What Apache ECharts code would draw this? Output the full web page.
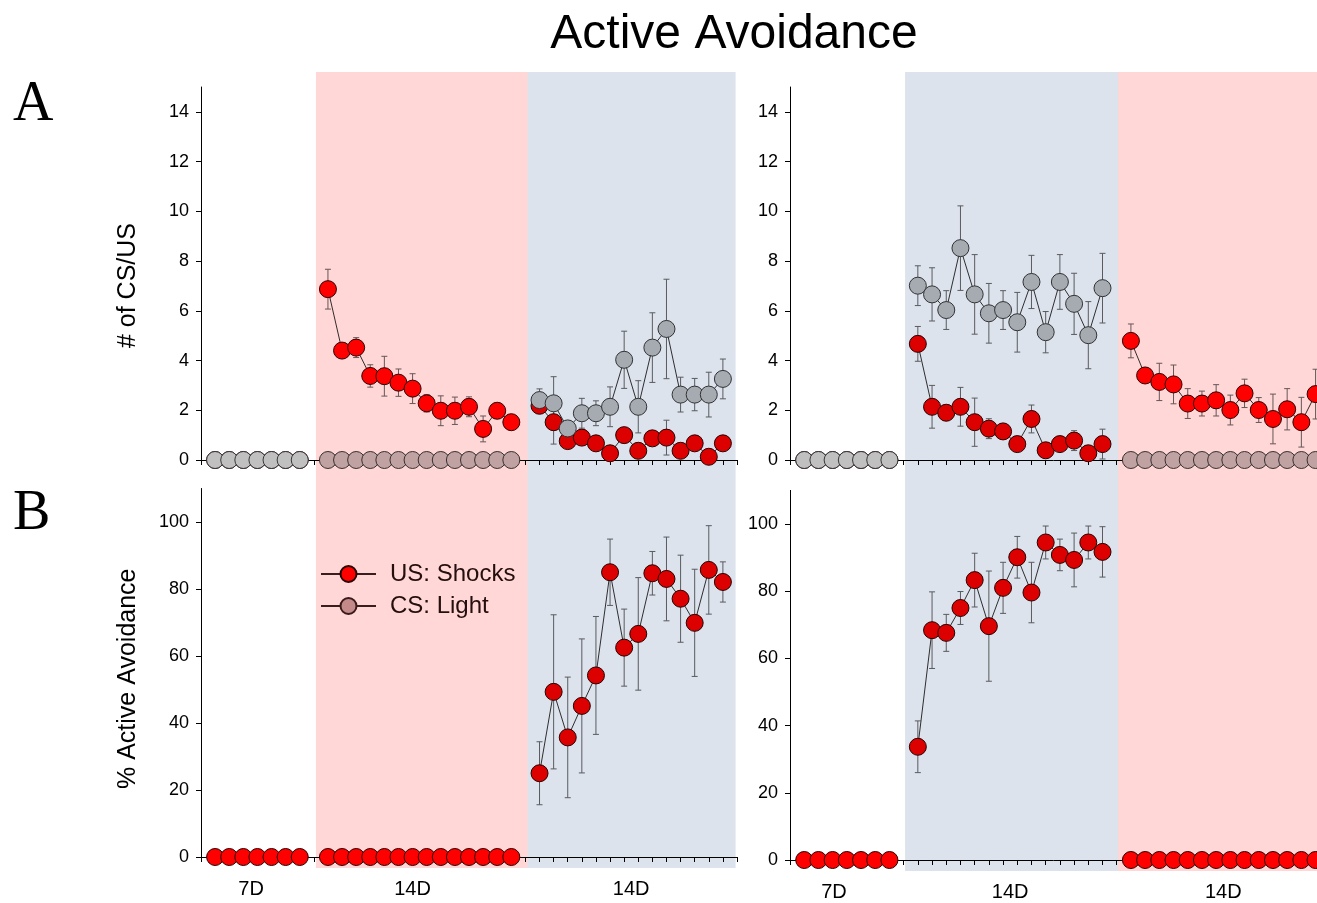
<!DOCTYPE html>
<html>
<head>
<meta charset="utf-8">
<title>Active Avoidance</title>
<script src="https://cdn.jsdelivr.net/npm/echarts@6/dist/echarts.min.js"></script>
<style>
  html, body { margin: 0; padding: 0; background: #fff; }
  #chart { width: 1317px; height: 903px; }
</style>
</head>
<body>
<div id="chart"></div>
<script>
// ---- Session layout: 7-day block, then two 14-day blocks, one empty slot between blocks
const blockStart = [0, 8, 23];
const blockLabels = ['7D', '14D', '14D'];
const blockLabelPosLeft = [2.55, 14, 29.5];
const blockLabelPosRight = [2.1, 14.5, 29.5];
const countTicks = [0, 2, 4, 6, 8, 10, 12, 14];
const pctTicks = [0, 20, 40, 60, 80, 100];

// ---- Left column: 7D, then 14D (pink), then 14D (blue)
// A: number of US (shocks) and CS (light) per session, mean and SEM
const leftShock7 = [0, 0, 0, 0, 0, 0, 0];
const leftShockPink = [6.87, 4.40, 4.52, 3.38, 3.37, 3.11, 2.87, 2.28, 1.98, 1.98, 2.14, 1.25, 1.98, 1.52];
const leftShockPinkErr = [0.8, 0.3, 0.4, 0.45, 0.8, 0.55, 0.6, 0.35, 0.6, 0.55, 0.4, 0.52, 0.3, 0.2];
const leftShockBlue = [2.18, 1.52, 0.76, 0.90, 0.67, 0.27, 1.00, 0.37, 0.87, 0.90, 0.37, 0.67, 0.13, 0.67];
const leftShockBlueErr = [0.3, 0.88, 0.2, 0.2, 0.2, 0.15, 0.2, 0.15, 0.2, 0.7, 0.15, 0.2, 0.15, 0.2];
const leftLight7 = [0, 0, 0, 0, 0, 0, 0];
const leftLightPink = [0, 0, 0, 0, 0, 0, 0, 0, 0, 0, 0, 0, 0, 0];
const leftLightBlue = [2.41, 2.28, 1.27, 1.88, 1.88, 2.14, 4.03, 2.14, 4.52, 5.27, 2.63, 2.63, 2.63, 3.26];
const leftLightBlueErr = [0.45, 1.07, 0.3, 0.6, 0.5, 0.8, 1.15, 1.05, 1.4, 2.0, 0.7, 0.65, 0.9, 0.8];
// B: % active avoidance
const leftAvoid7 = [0, 0, 0, 0, 0, 0, 0];
const leftAvoidPink = [0, 0, 0, 0, 0, 0, 0, 0, 0, 0, 0, 0, 0, 0];
const leftAvoidBlue = [25.0, 49.3, 35.7, 45.1, 54.2, 85.0, 62.5, 66.6, 84.7, 83.0, 77.1, 69.9, 85.7, 82.1];
const leftAvoidBlueErr = [9.4, 23, 18, 20, 17.6, 9.9, 11.5, 16.8, 6.5, 12.5, 13, 16, 13.2, 6];

// ---- Right column: 7D, then 14D (blue), then 14D (pink)
const rightShock7 = [0, 0, 0, 0, 0, 0, 0];
const rightShockBlue = [4.67, 2.14, 1.90, 2.14, 1.52, 1.26, 1.15, 0.64, 1.65, 0.39, 0.64, 0.78, 0.27, 0.64];
const rightShockBlueErr = [0.7, 0.86, 0.3, 0.78, 0.97, 0.4, 0.3, 0.2, 0.56, 0.2, 0.2, 0.4, 0.2, 0.6];
const rightShockPink = [4.79, 3.40, 3.14, 3.04, 2.27, 2.27, 2.40, 2.01, 2.68, 2.01, 1.65, 2.04, 1.52, 2.65];
const rightShockPinkErr = [0.68, 0.3, 0.75, 0.78, 0.6, 0.5, 0.63, 0.6, 0.57, 0.5, 1.0, 0.83, 1.0, 1.0];
const rightLight7 = [0, 0, 0, 0, 0, 0, 0];
const rightLightBlue = [7.01, 6.66, 6.03, 8.52, 6.66, 5.90, 6.03, 5.54, 7.16, 5.14, 7.16, 6.28, 5.02, 6.91];
const rightLightBlueErr = [0.8, 1.07, 0.78, 1.7, 1.6, 1.2, 0.78, 1.2, 1.07, 0.83, 1.1, 1.23, 1.35, 1.4];
const rightLightPink = [0, 0, 0, 0, 0, 0, 0, 0, 0, 0, 0, 0, 0, 0];
const rightAvoid7 = [0, 0, 0, 0, 0, 0, 0];
const rightAvoidBlue = [33.7, 68.4, 67.6, 75.0, 83.3, 69.6, 81.0, 90.1, 79.6, 94.5, 90.8, 89.3, 94.5, 91.7];
const rightAvoidBlueErr = [7.7, 11.4, 5.5, 4.9, 8, 16.4, 7.6, 6.2, 9.0, 4.9, 4.7, 8, 4.9, 7.5];
const rightAvoidPink = [0, 0, 0, 0, 0, 0, 0, 0, 0, 0, 0, 0, 0, 0];

const SANS = '"Liberation Sans", Arial, sans-serif';
const SERIF = '"Liberation Serif", "Times New Roman", serif';
const PINK = '#ffd7d7';
const BLUE = '#dde3ec';
const SHOCK = '#ff0000';
const LIGHT = '#c0c0c0';

// session index -> [x, value]; a '-' point breaks the line between blocks
function toPoints(blocks) {
  const pts = [];
  blocks.forEach((vals, b) => {
    if (b > 0) pts.push([blockStart[b] - 1, '-']);
    vals.forEach((v, i) => pts.push([blockStart[b] + i, v]));
  });
  return pts;
}
function toErrPoints(blocks, errs) {
  const pts = [];
  blocks.forEach((vals, b) => {
    if (!errs[b]) return;
    vals.forEach((v, i) => pts.push([blockStart[b] + i, v, errs[b][i]]));
  });
  return pts;
}

function renderErr(params, api) {
  const x = api.value(0), y = api.value(1), e = api.value(2);
  if (!(e > 0)) return null;
  const hi = api.coord([x, y + e]);
  const lo = api.coord([x, y - e]);
  const w = 3;
  const st = { stroke: '#666', lineWidth: 1 };
  return {
    type: 'group',
    children: [
      { type: 'line', shape: { x1: hi[0], y1: hi[1], x2: lo[0], y2: lo[1] }, style: st },
      { type: 'line', shape: { x1: hi[0] - w, y1: hi[1], x2: hi[0] + w, y2: hi[1] }, style: st },
      { type: 'line', shape: { x1: lo[0] - w, y1: lo[1], x2: lo[0] + w, y2: lo[1] }, style: st }
    ]
  };
}

function errSeries(grid, blocks, errs) {
  return {
    type: 'custom', xAxisIndex: grid, yAxisIndex: grid, z: 2,
    renderItem: renderErr, encode: { x: 0, y: 1 }, silent: true,
    data: toErrPoints(blocks, errs)
  };
}
function lineSeries(grid, name, blocks, fill, border, z) {
  return {
    type: 'line', name: name, xAxisIndex: grid, yAxisIndex: grid, z: z,
    data: toPoints(blocks), connectNulls: false,
    symbol: 'circle', symbolSize: 17,
    itemStyle: { color: fill, borderColor: border, borderWidth: 1 },
    lineStyle: { color: '#333', width: 1 },
    emphasis: { disabled: true }
  };
}

// the right column runs past the page edge, so its axis stops a little after session 36
const grids = [
  { left: 201, top: 87, width: 536, height: 373 },     // A left
  { left: 201, top: 488.5, width: 536, height: 368.5 },// B left
  { left: 790, top: 87, width: 527, height: 373 },     // A right
  { left: 790, top: 490.4, width: 527, height: 369.6 } // B right
];
const xMax = [37, 37, 36.1, 36.1];

function xAxis(grid, labelPos) {
  return {
    type: 'value', gridIndex: grid, min: -1, max: xMax[grid], interval: 1,
    splitLine: { show: false },
    axisLine: { onZero: false, lineStyle: { color: '#000', width: 1 } },
    axisTick: { show: true, length: 5, lineStyle: { color: '#000' } },
    axisLabel: labelPos ? {
      show: true, customValues: labelPos, margin: 22,
      fontFamily: SANS, fontSize: 20, color: '#000',
      formatter: (v) => blockLabels[labelPos.indexOf(v)] || ''
    } : { show: false }
  };
}
// the axis title is centred on the labelled part of the axis (padding nudges it down)
function yAxis(grid, max, ticks, name, gap, nudge) {
  return {
    type: 'value', gridIndex: grid, min: 0, max: max,
    splitLine: { show: false },
    axisLine: { show: true, onZero: false, lineStyle: { color: '#000', width: 1 } },
    axisTick: { show: true, length: 5, customValues: ticks, lineStyle: { color: '#000' } },
    axisLabel: { customValues: ticks, margin: 12, fontFamily: SANS, fontSize: 18, color: '#000' },
    name: name || '', nameLocation: 'middle', nameGap: gap || 0, nameRotate: 90,
    nameTextStyle: { fontFamily: SANS, fontSize: 25, color: '#000', padding: [0, nudge || 0, 0, 0] }
  };
}

const option = {
  backgroundColor: '#fff',
  animation: false,
  title: [
    { text: 'Active Avoidance', left: 729, top: 6, textAlign: 'center',
      textStyle: { fontFamily: SANS, fontSize: 48, fontWeight: 'normal', color: '#000' } },
    { text: 'A', left: 8, top: 72,
      textStyle: { fontFamily: SERIF, fontSize: 56, fontWeight: 'normal', color: '#000' } },
    { text: 'B', left: 8, top: 481,
      textStyle: { fontFamily: SERIF, fontSize: 56, fontWeight: 'normal', color: '#000' } }
  ],
  // legend sits inside the pink band, so its key uses the band-tinted colours
  legend: {
    data: [
      { name: 'US: Shocks', itemStyle: { color: '#ff0000', borderColor: '#2a0000' } },
      { name: 'CS: Light', itemStyle: { color: '#c4a2a2', borderColor: '#382020' } }
    ],
    orient: 'vertical',
    left: 315, top: 557, itemWidth: 55, itemHeight: 20, itemGap: 8,
    selectedMode: false,
    lineStyle: { color: '#3a2222' },
    textStyle: { fontFamily: SANS, fontSize: 24, color: '#241010', padding: [0, 0, 0, 9] }
  },
  grid: grids,
  xAxis: [xAxis(0), xAxis(1, blockLabelPosLeft), xAxis(2), xAxis(3, blockLabelPosRight)],
  yAxis: [
    yAxis(0, 15, countTicks, '# of CS/US', 60, 24),
    yAxis(1, 110, pctTicks, '% Active Avoidance', 60, 12),
    yAxis(2, 15, countTicks),
    yAxis(3, 110, pctTicks)
  ],
  series: [
    // A left
    errSeries(0, [leftShock7, leftShockPink, leftShockBlue], [null, leftShockPinkErr, leftShockBlueErr]),
    errSeries(0, [leftLight7, leftLightPink, leftLightBlue], [null, null, leftLightBlueErr]),
    lineSeries(0, 'US: Shocks', [leftShock7, leftShockPink, leftShockBlue], SHOCK, '#2a0000', 3),
    lineSeries(0, 'CS: Light', [leftLight7, leftLightPink, leftLightBlue], LIGHT, '#383838', 4),
    // B left
    errSeries(1, [leftAvoid7, leftAvoidPink, leftAvoidBlue], [null, null, leftAvoidBlueErr]),
    lineSeries(1, 'US: Shocks', [leftAvoid7, leftAvoidPink, leftAvoidBlue], SHOCK, '#2a0000', 3),
    // A right
    errSeries(2, [rightShock7, rightShockBlue, rightShockPink], [null, rightShockBlueErr, rightShockPinkErr]),
    errSeries(2, [rightLight7, rightLightBlue, rightLightPink], [null, rightLightBlueErr, null]),
    lineSeries(2, 'US: Shocks', [rightShock7, rightShockBlue, rightShockPink], SHOCK, '#2a0000', 3),
    lineSeries(2, 'CS: Light', [rightLight7, rightLightBlue, rightLightPink], LIGHT, '#383838', 4),
    // B right
    errSeries(3, [rightAvoid7, rightAvoidBlue, rightAvoidPink], [null, rightAvoidBlueErr, null]),
    lineSeries(3, 'US: Shocks', [rightAvoid7, rightAvoidBlue, rightAvoidPink], SHOCK, '#2a0000', 3)
  ]
};

const chart = echarts.init(document.getElementById('chart'), null, { renderer: 'canvas' });
chart.setOption(option);

// Condition bands, tinted over both rows of each column (multiply keeps marks visible)
const columns = [
  { gridA: 0, gridB: 1, bands: [[7.15, 22.15, PINK], [22.15, 36.9, BLUE]] },
  { gridA: 2, gridB: 3, bands: [[7.1, 22.1, BLUE], [22.1, 37, PINK]] }
];
const rects = [];
columns.forEach((col) => {
  const top = chart.convertToPixel({ gridIndex: col.gridA }, [0, 15])[1] - 15;
  const bottom = chart.convertToPixel({ gridIndex: col.gridB }, [0, 0])[1] + 11;
  col.bands.forEach(([from, to, color]) => {
    const x0 = chart.convertToPixel({ gridIndex: col.gridA }, [from, 0])[0];
    const x1 = chart.convertToPixel({ gridIndex: col.gridA }, [to, 0])[0];
    rects.push({
      type: 'rect', silent: true, z: 1000,
      shape: { x: x0, y: top, width: x1 - x0, height: bottom - top },
      style: { fill: color, blend: 'multiply' }
    });
  });
});
chart.setOption({ graphic: rects });
</script>
</body>
</html>
